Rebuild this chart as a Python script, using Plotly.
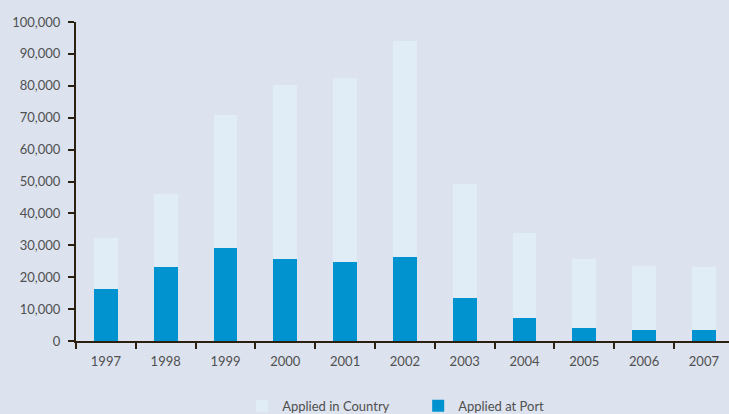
import plotly.graph_objects as go

years = ["1997", "1998", "1999", "2000", "2001", "2002", "2003", "2004", "2005", "2006", "2007"]
applied_at_port = [16300, 23200, 29200, 25700, 24800, 26300, 13500, 7200, 4100, 3400, 3400]
total_applied = [32300, 46100, 70800, 80300, 82400, 94000, 49200, 33900, 25700, 23500, 23200]
applied_in_country = [t - p for t, p in zip(total_applied, applied_at_port)]
y_ticks = [0, 10000, 20000, 30000, 40000, 50000, 60000, 70000, 80000, 90000, 100000]
y_tick_labels = ["0", "10,000", "20,000", "30,000", "40,000", "50,000", "60,000",
                 "70,000", "80,000", "90,000", "100,000"]

BG = "#DCE2EE"
AXIS = "#2B2010"
FONT = "Lato, 'Open Sans', sans-serif"
TXT = "#505050"

fig = go.Figure()
fig.add_trace(go.Bar(x=years, y=applied_at_port, name="Applied at Port",
                     marker=dict(color="#0093D0", line=dict(width=0))))
fig.add_trace(go.Bar(x=years, y=applied_in_country, name="Applied in Country",
                     marker=dict(color="#E0EDF7", line=dict(width=0))))

fig.update_layout(
    width=729, height=414,
    barmode="stack", bargap=0.6,
    paper_bgcolor=BG, plot_bgcolor=BG,
    margin=dict(l=76, r=0, t=22, b=73, autoexpand=False),
    font=dict(family=FONT, size=13, color=TXT),
    showlegend=True,
    legend=dict(orientation="h", traceorder="reversed", x=0.524, xanchor="center",
                yref="container", y=0.02, yanchor="middle",
                font=dict(size=13, color=TXT), bgcolor="rgba(0,0,0,0)",
                entrywidth=131),
)
fig.update_xaxes(type="category", range=[-0.5, 10.42], showline=True, linecolor=AXIS,
                 linewidth=2, ticks="outside", tickson="boundaries", ticklen=6,
                 tickwidth=2, tickcolor=AXIS, showgrid=False, zeroline=False,
                 ticklabelstandoff=7, tickfont=dict(size=13, color=TXT))
fig.update_yaxes(range=[0, 100000], tickvals=y_ticks, ticktext=y_tick_labels,
                 showline=True, linecolor=AXIS, linewidth=2, ticks="outside",
                 ticklen=6, tickwidth=2, tickcolor=AXIS, showgrid=False,
                 zeroline=False, ticklabelstandoff=5, tickfont=dict(size=13, color=TXT))

fig.write_html("out.html", config={"displayModeBar": False},
               post_script="document.body.style.margin='0px';document.body.style.background='%s';" % BG)
